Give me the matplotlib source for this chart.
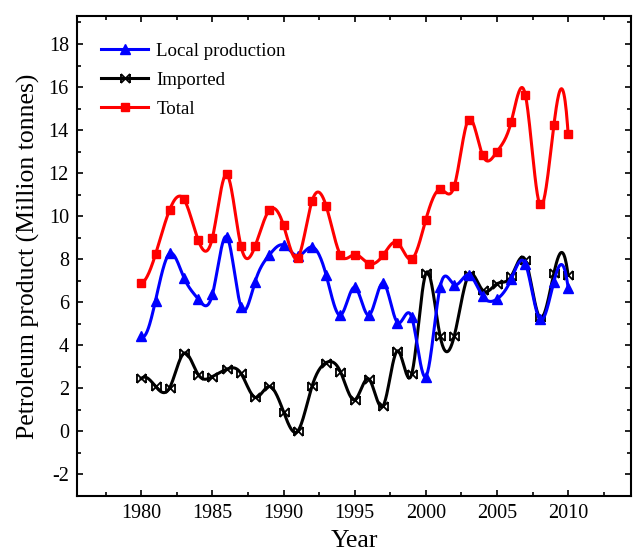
import numpy as np
import matplotlib
matplotlib.use("Agg")
import matplotlib.pyplot as plt
from matplotlib.path import Path
from matplotlib.ticker import MultipleLocator

# Petroleum product supply, million tonnes per year
years = list(range(1980, 2011))
local_production = [4.42, 6.08, 8.27, 7.14, 6.15, 6.37, 9.05, 5.80, 6.96, 8.20,
                    8.66, 8.15, 8.57, 7.25, 5.40, 6.70, 5.40, 6.90, 5.06, 5.32,
                    2.55, 6.70, 6.82, 7.28, 6.28, 6.15, 7.07, 7.78, 5.21, 6.96,
                    6.68]
imported = [2.46, 2.09, 2.04, 3.63, 2.64, 2.55, 2.89, 2.70, 1.58, 2.09,
            0.91, 0.02, 2.10, 3.20, 2.77, 1.47, 2.43, 1.19, 3.74, 2.65,
            7.34, 4.44, 4.44, 7.25, 6.55, 6.86, 7.20, 7.95, 5.30, 7.35,
            7.25]
total = [6.90, 8.23, 10.31, 10.78, 8.89, 9.00, 11.94, 8.62, 8.61, 10.28,
         9.57, 8.07, 10.70, 10.46, 8.20, 8.22, 7.80, 8.19, 8.77, 8.00,
         9.84, 11.24, 11.40, 14.49, 12.82, 13.00, 14.38, 15.62, 10.55, 14.23,
         13.84]

series_labels = ["Local production", "Imported", "Total"]


def cubic_spline(x, y, per_segment=24):
    """Smooth curve through the points (cubic spline, not-a-knot ends)."""
    x = np.asarray(x, float)
    y = np.asarray(y, float)
    n = len(x)
    h = np.diff(x)
    A = np.zeros((n, n))
    b = np.zeros(n)
    # not-a-knot: third derivative continuous at second and second-last knots
    A[0, 0], A[0, 1], A[0, 2] = h[1], -(h[0] + h[1]), h[0]
    A[-1, -3], A[-1, -2], A[-1, -1] = h[-1], -(h[-2] + h[-1]), h[-2]
    for i in range(1, n - 1):
        A[i, i - 1] = h[i - 1]
        A[i, i] = 2 * (h[i - 1] + h[i])
        A[i, i + 1] = h[i]
        b[i] = 6 * ((y[i + 1] - y[i]) / h[i] - (y[i] - y[i - 1]) / h[i - 1])
    M = np.linalg.solve(A, b)
    xs = np.linspace(x[0], x[-1], (n - 1) * per_segment + 1)
    idx = np.clip(np.searchsorted(x, xs) - 1, 0, n - 2)
    x0, x1 = x[idx], x[idx + 1]
    hh = x1 - x0
    t0, t1 = x1 - xs, xs - x0
    ys = ((M[idx] * t0 ** 3 + M[idx + 1] * t1 ** 3) / (6 * hh)
          + (y[idx] / hh - M[idx] * hh / 6) * t0
          + (y[idx + 1] / hh - M[idx + 1] * hh / 6) * t1)
    return xs, ys


# "X with end bars" marker
bowtie = Path(
    [(-1, -1), (1, 1), (-1, 1), (1, -1), (-1, -1), (-1, 1), (1, -1), (1, 1)],
    [Path.MOVETO, Path.LINETO] * 4,
)

plt.rcParams["font.family"] = ["Liberation Serif", "DejaVu Serif"]
plt.rcParams["axes.unicode_minus"] = False

fig = plt.figure(figsize=(6.34, 5.56), dpi=100)
ax = fig.add_axes([0.1219, 0.1079, 0.8729, 0.8633])

styles = [
    dict(color="#0000ff", marker="^", ms=6.5, mew=1.0, zorder=3),
    dict(color="#000000", marker=bowtie, ms=6.5, mew=1.3, mfc="none", zorder=2),
    dict(color="#ff0000", marker="s", ms=6.3, mew=1.0, zorder=4),
]

for values, label, st in zip([local_production, imported, total], series_labels, styles):
    xs, ys = cubic_spline(years, values)
    ax.plot(xs, ys, color=st["color"], lw=2.2, zorder=st["zorder"])
    ax.plot(years, values, linestyle="none", marker=st["marker"], ms=st["ms"],
            mew=st["mew"], color=st["color"], mfc=st.get("mfc", st["color"]),
            zorder=st["zorder"] + 0.1)
    # legend handle: line with marker in the middle
    ax.plot([], [], color=st["color"], lw=2.2, marker=st["marker"], ms=st["ms"],
            mew=st["mew"], mfc=st.get("mfc", st["color"]), label=label)

ax.set_xlim(1975.5, 2014.4)
ax.set_ylim(-3.0, 19.3)
ax.xaxis.set_minor_locator(MultipleLocator(2.5))
ax.yaxis.set_minor_locator(MultipleLocator(1))
ax.set_xticks(range(1980, 2011, 5))
ax.set_yticks(range(-2, 19, 2))

ax.tick_params(which="both", direction="in", top=True, right=True, width=1.2,
               labelsize=14.5, pad=6)
ax.tick_params(which="major", length=4.5)
ax.tick_params(which="minor", length=3)
for sp in ax.spines.values():
    sp.set_linewidth(1.5)

ax.set_xlabel("Year", fontsize=18.5, labelpad=5)
ax.set_ylabel("Petroleum product (Million tonnes)", fontsize=18.5, labelpad=6)

ax.legend(loc="upper left", bbox_to_anchor=(0.03, 0.96), frameon=False,
          fontsize=13.6, handlelength=2.45, handletextpad=0.45,
          labelspacing=0.62, borderaxespad=0.0, numpoints=1)

fig.savefig("out.png", dpi=100)
